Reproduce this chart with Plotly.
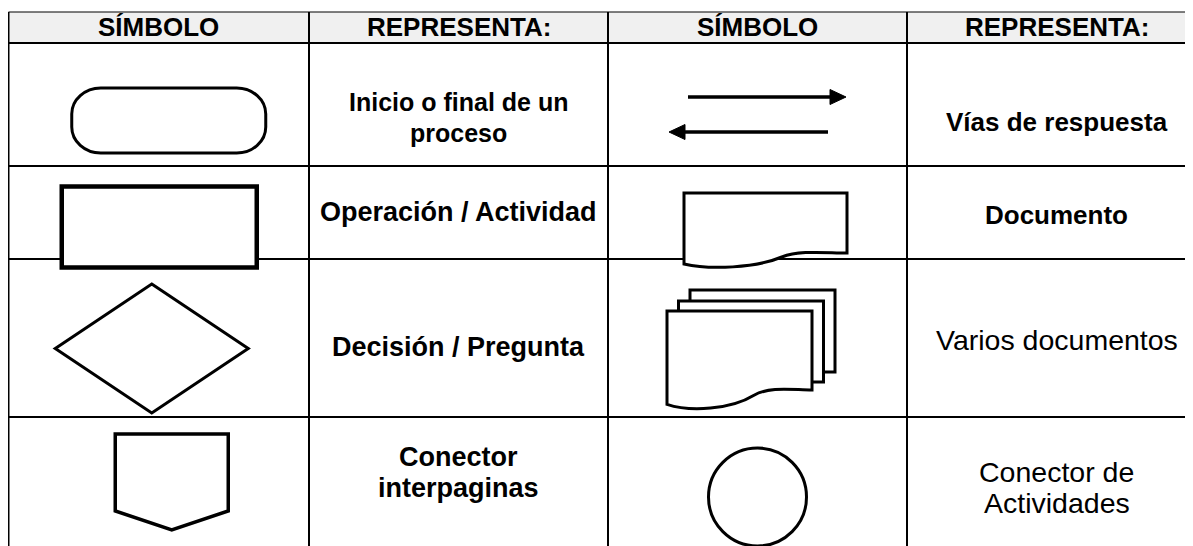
import plotly.graph_objects as go

W, H = 1193, 546
PAGE_MARGIN = 8  # default body margin of the html page

# ---- table content ----
headers = ["SÍMBOLO", "REPRESENTA:", "SÍMBOLO", "REPRESENTA:"]
left_symbols = ["terminator", "process", "decision", "offpage"]
left_labels = ["Inicio o final de un<br>proceso", "Operación / Actividad",
               "Decisión / Pregunta", "Conector<br>interpaginas"]
left_bold = [True, True, True, True]
right_symbols = ["arrows", "document", "multidocument", "connector"]
right_labels = ["Vías de respuesta", "Documento", "Varios documentos",
                "Conector de<br>Actividades"]
right_bold = [True, True, False, False]

# ---- layout / style (pixels) ----
col_edges = [8.5, 309, 608, 907, 1206]
row_edges = [12, 43, 166, 259, 417, 600]
header_y = 26.5
header_size = 26
left_label_y = [117.5, 212, 347, 472.5]
left_label_size = [25, 27, 27, 27]
right_label_y = [122, 215, 340, 487]
right_label_size = [26, 26, 28.5, 28.5]
LINE_GAP = 31  # px between lines of a two-line label

FONT = "Liberation Sans, Arial, Helvetica, sans-serif"
INK = "#000000"

fig = go.Figure()
shapes = []
annotations = []

# header background
shapes.append(dict(type="rect", x0=col_edges[0], x1=W + 20, y0=row_edges[0], y1=row_edges[1],
                   fillcolor="#f0f0f0", line=dict(width=0), layer="below"))
# grid lines
shapes.append(dict(type="line", x0=col_edges[0], x1=W + 20, y0=row_edges[0], y1=row_edges[0],
                   line=dict(color=INK, width=1.2)))
for yy in row_edges[1:5]:
    shapes.append(dict(type="line", x0=col_edges[0], x1=W + 20, y0=yy, y1=yy,
                       line=dict(color=INK, width=2)))
for xx in col_edges[:4]:
    shapes.append(dict(type="line", x0=xx, x1=xx, y0=row_edges[0], y1=H + 20,
                       line=dict(color=INK, width=2)))


def ccx(c):
    return (col_edges[c] + col_edges[c + 1]) / 2


def path_shape(path, width=3, fill="white"):
    return dict(type="path", path=path, fillcolor=fill, line=dict(color=INK, width=width))


def doc_path(x0, x1, ytop, yr, amp=1.0):
    w = x1 - x0
    return (f"M{x0},{ytop} L{x1},{ytop} L{x1},{yr} "
            f"C{x0 + 0.87 * w},{yr} {x0 + 0.71 * w},{yr - 3 * amp} {x0 + 0.6 * w},{yr + 4 * amp} "
            f"C{x0 + 0.44 * w},{yr + 15 * amp} {x0 + 0.16 * w},{yr + 17 * amp} {x0},{yr + 11 * amp} Z")


def draw_symbol(name, cx, rtop):
    out = []
    if name == "terminator":
        x0, x1, y0, y1 = cx - 87, cx + 107, rtop + 45, rtop + 110
        rx, ry = 29, 26
        kx, ky = 0.55 * rx, 0.55 * ry
        p = (f"M{x0 + rx},{y0} L{x1 - rx},{y0} C{x1 - rx + kx},{y0} {x1},{y0 + ry - ky} {x1},{y0 + ry} "
             f"L{x1},{y1 - ry} C{x1},{y1 - ry + ky} {x1 - rx + kx},{y1} {x1 - rx},{y1} "
             f"L{x0 + rx},{y1} C{x0 + rx - kx},{y1} {x0},{y1 - ry + ky} {x0},{y1 - ry} "
             f"L{x0},{y0 + ry} C{x0},{y0 + ry - ky} {x0 + rx - kx},{y0} {x0 + rx},{y0} Z")
        out.append(path_shape(p, 3))
    elif name == "process":
        out.append(dict(type="rect", x0=cx - 97, x1=cx + 98, y0=rtop + 20.5, y1=rtop + 101.5,
                        fillcolor="white", line=dict(color=INK, width=4.5)))
    elif name == "decision":
        mx, my = cx - 7, rtop + 89.5
        p = f"M{mx},{my - 64.5} L{mx + 96.5},{my} L{mx},{my + 64.5} L{mx - 96.5},{my} Z"
        out.append(path_shape(p, 3))
    elif name == "offpage":
        x0, x1 = cx - 43.5, cx + 69.5
        mx = (x0 + x1) / 2
        p = f"M{x0},{rtop + 17} L{x1},{rtop + 17} L{x1},{rtop + 94} L{mx},{rtop + 113} L{x0},{rtop + 94} Z"
        out.append(path_shape(p, 3.5))
    elif name == "arrows":
        ya, yb = rtop + 54, rtop + 89
        xa0, xa1 = cx - 69.5, cx + 88.5
        xb0, xb1 = cx - 88.5, cx + 70.5
        hl, hw = 16, 7.5
        out.append(dict(type="line", x0=xa0, x1=xa1 - hl + 2, y0=ya, y1=ya, line=dict(color=INK, width=3.5)))
        out.append(path_shape(f"M{xa1},{ya} L{xa1 - hl},{ya - hw} L{xa1 - hl},{ya + hw} Z", 1, INK))
        out.append(dict(type="line", x0=xb0 + hl - 2, x1=xb1, y0=yb, y1=yb, line=dict(color=INK, width=3.5)))
        out.append(path_shape(f"M{xb0},{yb} L{xb0 + hl},{yb - hw} L{xb0 + hl},{yb + hw} Z", 1, INK))
    elif name == "document":
        out.append(path_shape(doc_path(cx - 73.5, cx + 89.5, rtop + 27, rtop + 87, 1.0), 3))
    elif name == "multidocument":
        x0, x1 = cx - 90.5, cx + 54.5
        out.append(path_shape(f"M{x0 + 23},{rtop + 31} L{x1 + 23},{rtop + 31} L{x1 + 23},{rtop + 113} "
                              f"L{x0 + 23},{rtop + 113} Z", 3))
        out.append(path_shape(f"M{x0 + 11.5},{rtop + 42} L{x1 + 11.5},{rtop + 42} L{x1 + 11.5},{rtop + 123} "
                              f"L{x0 + 11.5},{rtop + 123} Z", 3))
        out.append(path_shape(doc_path(x0, x1, rtop + 52, rtop + 131, 1.3), 3))
    elif name == "connector":
        out.append(dict(type="circle", x0=cx - 49, x1=cx + 49, y0=rtop + 31, y1=rtop + 129,
                        fillcolor="white", line=dict(color=INK, width=3)))
    return out


for i in range(4):
    rtop = row_edges[i + 1]
    shapes += draw_symbol(left_symbols[i], ccx(0), rtop)
    shapes += draw_symbol(right_symbols[i], ccx(2), rtop)


def add_label(x, yc, text, bold, size):
    lines = text.split("<br>")
    y0 = yc - LINE_GAP * (len(lines) - 1) / 2
    for k, ln in enumerate(lines):
        annotations.append(dict(x=x, y=y0 + k * LINE_GAP, text=f"<b>{ln}</b>" if bold else ln,
                                showarrow=False, xanchor="center", yanchor="middle",
                                font=dict(family=FONT, size=size, color=INK)))


for c, h in enumerate(headers):
    add_label(ccx(c), header_y, h, True, header_size)

for i in range(4):
    add_label(ccx(1), left_label_y[i], left_labels[i], left_bold[i], left_label_size[i])
    add_label(ccx(3), right_label_y[i], right_labels[i], right_bold[i], right_label_size[i])

# map data units to page pixels (figure sits PAGE_MARGIN px in from the page corner)
fig.update_layout(
    width=W, height=H, margin=dict(l=0, r=0, t=0, b=0),
    paper_bgcolor="white", plot_bgcolor="white",
    xaxis=dict(range=[PAGE_MARGIN, W + PAGE_MARGIN], visible=False, fixedrange=True),
    yaxis=dict(range=[H + PAGE_MARGIN, PAGE_MARGIN], visible=False, fixedrange=True),
    shapes=shapes, annotations=annotations, showlegend=False,
)

fig.write_html("out.html")
